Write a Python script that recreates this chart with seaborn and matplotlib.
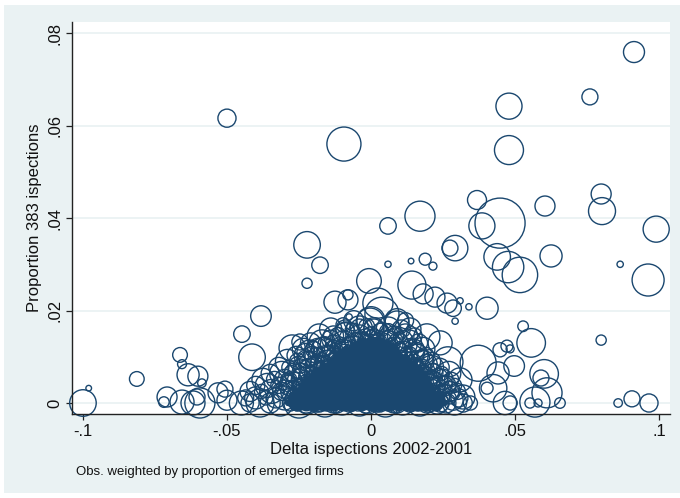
import numpy as np
import pandas as pd
import seaborn as sns
import matplotlib.pyplot as plt
from matplotlib.patches import Rectangle

navy = '#1a476f'
region_bg = '#eaf2f3'

# scattered firms, readable one by one (delta inspections, proportion 383, weight)
spread_x = [-0.0500, -0.0094, 0.0913, 0.0760, 0.0479, 0.0479, 0.0799, 0.0802, 0.0604, 0.0368,
            0.0448, 0.0385, 0.0170, 0.0059, 0.0990, 0.0274, 0.0292, 0.0438, 0.0476, 0.0517,
            0.0625, 0.0865, 0.0962, 0.0403, 0.0285, 0.0309, 0.0340, 0.0292, 0.0528, 0.0556,
            0.0799, 0.0372, 0.0448, 0.0472, 0.0483, 0.0497, 0.0441, 0.0424, 0.0403, 0.0465,
            0.0483, 0.0601, 0.0590, 0.0611, 0.0569, 0.0552, 0.0580, 0.0656, 0.0858, 0.0906,
            0.0965, -0.1000, -0.0980, -0.0813, -0.0663, -0.0656, -0.0635, -0.0601, -0.0587, -0.0708,
            -0.0719, -0.0656, -0.0618, -0.0594, -0.0604, -0.0531, -0.0507, -0.0500, -0.0448, -0.0382,
            -0.0413, -0.0222, -0.0177, -0.0222, 0.0188, 0.0215, 0.0139, 0.0059, -0.0007, 0.0142,
            0.0181, 0.0222, -0.0125, -0.0080, -0.0080, -0.0076, -0.0097, 0.0038, 0.0264, -0.0274,
            -0.0247, -0.0212, -0.0167, -0.0003, 0.0090, 0.0194, 0.0240, 0.0267, 0.0309, 0.0285,
            0.0319, 0.0024]
spread_y = [0.0616, 0.0560, 0.0759, 0.0662, 0.0642, 0.0547, 0.0452, 0.0415, 0.0426, 0.0439,
            0.0389, 0.0383, 0.0404, 0.0383, 0.0376, 0.0335, 0.0335, 0.0316, 0.0294, 0.0277,
            0.0318, 0.0300, 0.0266, 0.0205, 0.0205, 0.0221, 0.0208, 0.0177, 0.0166, 0.0130,
            0.0136, 0.0086, 0.0115, 0.0123, 0.0117, 0.0080, 0.0065, 0.0032, 0.0032, 0.0000,
            0.0000, 0.0063, 0.0054, 0.0022, 0.0002, 0.0000, 0.0000, 0.0000, 0.0000, 0.0009,
            0.0000, 0.0000, 0.0032, 0.0052, 0.0104, 0.0084, 0.0061, 0.0058, 0.0043, 0.0013,
            0.0002, 0.0002, 0.0000, 0.0000, 0.0013, 0.0022, 0.0030, 0.0006, 0.0149, 0.0188,
            0.0099, 0.0259, 0.0298, 0.0342, 0.0311, 0.0296, 0.0307, 0.0300, 0.0264, 0.0255,
            0.0236, 0.0229, 0.0218, 0.0223, 0.0234, 0.0186, 0.0169, 0.0192, 0.0216, 0.0119,
            0.0132, 0.0108, 0.0121, 0.0175, 0.0173, 0.0143, 0.0130, 0.0089, 0.0050, 0.0006,
            0.0013, 0.0216]
spread_w = [0.041, 0.145, 0.055, 0.032, 0.085, 0.105, 0.050, 0.091, 0.050, 0.045,
            0.313, 0.085, 0.113, 0.034, 0.085, 0.032, 0.081, 0.088, 0.123, 0.157,
            0.061, 0.005, 0.128, 0.061, 0.034, 0.005, 0.005, 0.005, 0.014, 0.102,
            0.013, 0.162, 0.025, 0.018, 0.008, 0.053, 0.061, 0.094, 0.018, 0.068,
            0.025, 0.102, 0.032, 0.113, 0.113, 0.013, 0.008, 0.014, 0.009, 0.032,
            0.041, 0.088, 0.004, 0.027, 0.027, 0.010, 0.061, 0.050, 0.009, 0.050,
            0.014, 0.072, 0.072, 0.113, 0.032, 0.050, 0.032, 0.050, 0.034, 0.053,
            0.088, 0.013, 0.034, 0.088, 0.018, 0.008, 0.004, 0.005, 0.076, 0.098,
            0.050, 0.050, 0.061, 0.050, 0.013, 0.005, 0.025, 0.145, 0.050, 0.085,
            0.032, 0.085, 0.050, 0.098, 0.072, 0.085, 0.072, 0.113, 0.072, 0.050,
            0.072, 0.113]

# rings hugging the edge of the dense mound
fringe_x = [-0.0300, -0.0285, -0.0265, -0.0245, -0.0225, -0.0205, -0.0185, -0.0160, -0.0140, -0.0115,
            -0.0090, -0.0065, -0.0040, -0.0015, 0.0010, 0.0035, 0.0060, 0.0085, 0.0110, 0.0135,
            0.0155, 0.0175, 0.0195, 0.0215, 0.0235, 0.0255, 0.0275,
            -0.0270, -0.0250, -0.0230, -0.0210, -0.0190, -0.0170, -0.0150, -0.0125, -0.0100, -0.0075,
            -0.0050, -0.0025, 0.0000, 0.0025, 0.0050, 0.0075, 0.0100, 0.0120, 0.0140, 0.0160,
            0.0180, 0.0200, 0.0220, 0.0240]
fringe_y = [0.0030, 0.0050, 0.0065, 0.0080, 0.0095, 0.0105, 0.0118, 0.0128, 0.0138, 0.0146,
            0.0152, 0.0158, 0.0162, 0.0165, 0.0163, 0.0158, 0.0152, 0.0145, 0.0135, 0.0124,
            0.0112, 0.0098, 0.0084, 0.0070, 0.0055, 0.0040, 0.0025,
            0.0020, 0.0040, 0.0058, 0.0072, 0.0086, 0.0098, 0.0110, 0.0120, 0.0128, 0.0134,
            0.0140, 0.0143, 0.0145, 0.0142, 0.0137, 0.0130, 0.0120, 0.0110, 0.0098, 0.0085,
            0.0072, 0.0058, 0.0043, 0.0028]
fringe_w = [0.041, 0.032, 0.050, 0.025, 0.041, 0.032, 0.050, 0.025, 0.041, 0.032,
            0.050, 0.025, 0.041, 0.032, 0.050, 0.025, 0.041, 0.032, 0.050, 0.025,
            0.041, 0.032, 0.050, 0.025, 0.041, 0.032, 0.050,
            0.018, 0.013, 0.018, 0.013, 0.018, 0.013, 0.018, 0.013, 0.018, 0.013,
            0.018, 0.013, 0.018, 0.013, 0.018, 0.013, 0.018, 0.013, 0.018, 0.013,
            0.018, 0.013, 0.018, 0.013]

# the crowded mass near zero, read row by row (rings)
cluster_y = [0.0000, 0.0011, 0.0025, 0.0038, 0.0051, 0.0064, 0.0077,
             0.0090, 0.0103, 0.0116, 0.0130, 0.0145, 0.0160, 0.0178, 0.0000]
cluster_x = [
    [-0.0450, -0.0420, -0.0385, -0.0350, -0.0315, -0.0280, -0.0250, -0.0220, -0.0190, -0.0160,
     -0.0130, -0.0100, -0.0070, -0.0040, -0.0010, 0.0020, 0.0050, 0.0080, 0.0110, 0.0140,
     0.0170, 0.0200, 0.0230, 0.0260, 0.0290, 0.0320, 0.0345],
    [-0.0435, -0.0400, -0.0365, -0.0330, -0.0300, -0.0265, -0.0235, -0.0205, -0.0175, -0.0145,
     -0.0115, -0.0085, -0.0055, -0.0025, 0.0005, 0.0035, 0.0065, 0.0095, 0.0125, 0.0155,
     0.0185, 0.0215, 0.0245, 0.0275, 0.0305],
    [-0.0420, -0.0380, -0.0345, -0.0310, -0.0275, -0.0240, -0.0210, -0.0180, -0.0150, -0.0120,
     -0.0090, -0.0060, -0.0030, 0.0000, 0.0030, 0.0060, 0.0090, 0.0120, 0.0150, 0.0180,
     0.0210, 0.0240, 0.0270, 0.0300],
    [-0.0400, -0.0360, -0.0320, -0.0285, -0.0250, -0.0220, -0.0190, -0.0160, -0.0130, -0.0100,
     -0.0070, -0.0040, -0.0010, 0.0020, 0.0050, 0.0080, 0.0110, 0.0140, 0.0170, 0.0200,
     0.0230, 0.0260, 0.0290],
    [-0.0375, -0.0335, -0.0300, -0.0265, -0.0235, -0.0200, -0.0170, -0.0140, -0.0110, -0.0080,
     -0.0050, -0.0020, 0.0010, 0.0040, 0.0070, 0.0100, 0.0130, 0.0160, 0.0190, 0.0220,
     0.0250, 0.0280],
    [-0.0350, -0.0310, -0.0275, -0.0240, -0.0205, -0.0175, -0.0145, -0.0115, -0.0085, -0.0055,
     -0.0025, 0.0005, 0.0035, 0.0065, 0.0095, 0.0125, 0.0155, 0.0185, 0.0215, 0.0245, 0.0270],
    [-0.0320, -0.0285, -0.0250, -0.0215, -0.0185, -0.0150, -0.0120, -0.0090, -0.0060, -0.0030,
     0.0000, 0.0030, 0.0060, 0.0090, 0.0120, 0.0150, 0.0180, 0.0210, 0.0240],
    [-0.0290, -0.0255, -0.0220, -0.0185, -0.0155, -0.0120, -0.0090, -0.0060, -0.0030, 0.0000,
     0.0030, 0.0060, 0.0090, 0.0120, 0.0150, 0.0180, 0.0210],
    [-0.0260, -0.0225, -0.0190, -0.0155, -0.0120, -0.0090, -0.0055, -0.0025, 0.0010, 0.0040,
     0.0070, 0.0100, 0.0130, 0.0160, 0.0190],
    [-0.0235, -0.0200, -0.0165, -0.0130, -0.0095, -0.0060, -0.0025, 0.0010, 0.0045, 0.0080,
     0.0115, 0.0150, 0.0180],
    [-0.0210, -0.0170, -0.0130, -0.0095, -0.0055, -0.0015, 0.0025, 0.0060, 0.0095, 0.0130, 0.0165],
    [-0.0180, -0.0130, -0.0085, -0.0040, 0.0000, 0.0040, 0.0080, 0.0120, 0.0150],
    [-0.0140, -0.0090, -0.0040, 0.0010, 0.0060, 0.0105, 0.0135],
    [-0.0060, 0.0000, 0.0090, 0.0120],
    [-0.0270, -0.0255, -0.0240, -0.0225, -0.0210, -0.0195, -0.0180, -0.0165, -0.0150, -0.0135,
     -0.0120, -0.0105, -0.0090, -0.0075, -0.0060, -0.0045, -0.0030, -0.0015, 0.0000, 0.0015,
     0.0030, 0.0045, 0.0060, 0.0075, 0.0090, 0.0105, 0.0120, 0.0135, 0.0150, 0.0165,
     0.0180, 0.0195, 0.0210, 0.0225, 0.0240],
]
cluster_w = [
    [0.072, 0.041, 0.098, 0.050, 0.085, 0.032, 0.113, 0.061, 0.041, 0.098, 0.050, 0.072, 0.032, 0.085,
     0.061, 0.041, 0.098, 0.050, 0.072, 0.032, 0.085, 0.041, 0.061, 0.050, 0.072, 0.041, 0.025],
    [0.032, 0.061, 0.025, 0.050, 0.072, 0.041, 0.025, 0.072, 0.032, 0.050, 0.018, 0.041, 0.061, 0.025,
     0.050, 0.032, 0.072, 0.018, 0.041, 0.061, 0.025, 0.050, 0.032, 0.018, 0.041],
    [0.050, 0.025, 0.072, 0.041, 0.061, 0.032, 0.050, 0.025, 0.072, 0.032, 0.050, 0.018, 0.041, 0.061,
     0.025, 0.050, 0.032, 0.061, 0.018, 0.041, 0.072, 0.025, 0.050, 0.032],
    [0.041, 0.072, 0.032, 0.050, 0.025, 0.061, 0.041, 0.018, 0.050, 0.032, 0.061, 0.025, 0.041, 0.018,
     0.050, 0.032, 0.072, 0.025, 0.041, 0.061, 0.032, 0.050, 0.025],
    [0.061, 0.032, 0.050, 0.025, 0.072, 0.041, 0.025, 0.050, 0.032, 0.061, 0.018, 0.041, 0.025, 0.050,
     0.032, 0.061, 0.018, 0.041, 0.072, 0.032, 0.050, 0.025],
    [0.041, 0.072, 0.032, 0.050, 0.025, 0.061, 0.032, 0.050, 0.018, 0.041, 0.025, 0.050, 0.032, 0.061,
     0.025, 0.041, 0.072, 0.032, 0.050, 0.025, 0.072],
    [0.050, 0.025, 0.061, 0.041, 0.072, 0.032, 0.050, 0.025, 0.041, 0.018, 0.050, 0.032, 0.061, 0.025,
     0.041, 0.050, 0.032, 0.072, 0.041],
    [0.072, 0.032, 0.050, 0.025, 0.061, 0.041, 0.072, 0.032, 0.050, 0.025, 0.041, 0.061, 0.032, 0.050,
     0.025, 0.061, 0.041],
    [0.041, 0.072, 0.032, 0.050, 0.025, 0.061, 0.041, 0.072, 0.032, 0.050, 0.025, 0.072, 0.041, 0.061, 0.032],
    [0.061, 0.032, 0.072, 0.041, 0.050, 0.085, 0.032, 0.061, 0.041, 0.072, 0.032, 0.050, 0.072],
    [0.050, 0.085, 0.032, 0.072, 0.050, 0.098, 0.041, 0.072, 0.050, 0.085, 0.041],
    [0.072, 0.050, 0.098, 0.061, 0.041, 0.085, 0.050, 0.072, 0.032],
    [0.061, 0.041, 0.085, 0.050, 0.072, 0.041, 0.061],
    [0.050, 0.098, 0.072, 0.032],
    [0.013, 0.032, 0.018, 0.050, 0.008, 0.025, 0.041, 0.013, 0.032, 0.018, 0.050, 0.008, 0.025, 0.041,
     0.013, 0.032, 0.018, 0.050, 0.008, 0.025, 0.041, 0.013, 0.032, 0.018, 0.050, 0.008, 0.025, 0.041,
     0.013, 0.032, 0.018, 0.050, 0.008, 0.025, 0.041],
]

# overplotted core: so many firms that the rings merge into solid ink
core_weight = 0.003
base_weight = 0.03
core_y = [0.0000, 0.0009, 0.0018, 0.0027, 0.0036, 0.0045, 0.0054, 0.0063,
          0.0072, 0.0081, 0.0090, 0.0099, 0.0108, 0.0117, 0.0126, 0.0135]
core_x = [
    [-0.0288, -0.0272, -0.0256, -0.0240, -0.0224, -0.0208, -0.0192, -0.0176, -0.0160, -0.0144,
     -0.0128, -0.0112, -0.0096, -0.0080, -0.0064, -0.0048, -0.0032, -0.0016, 0.0000, 0.0016,
     0.0032, 0.0048, 0.0064, 0.0080, 0.0096, 0.0112, 0.0128, 0.0144, 0.0160, 0.0176,
     0.0192, 0.0208, 0.0224, 0.0240, 0.0256],
    [-0.0280, -0.0264, -0.0248, -0.0232, -0.0216, -0.0200, -0.0184, -0.0168, -0.0152, -0.0136,
     -0.0120, -0.0104, -0.0088, -0.0072, -0.0056, -0.0040, -0.0024, -0.0008, 0.0008, 0.0024,
     0.0040, 0.0056, 0.0072, 0.0088, 0.0104, 0.0120, 0.0136, 0.0152, 0.0168, 0.0184,
     0.0200, 0.0216, 0.0232, 0.0248],
    [-0.0272, -0.0256, -0.0240, -0.0224, -0.0208, -0.0192, -0.0176, -0.0160, -0.0144, -0.0128,
     -0.0112, -0.0096, -0.0080, -0.0064, -0.0048, -0.0032, -0.0016, 0.0000, 0.0016, 0.0032,
     0.0048, 0.0064, 0.0080, 0.0096, 0.0112, 0.0128, 0.0144, 0.0160, 0.0176, 0.0192,
     0.0208, 0.0224, 0.0240],
    [-0.0264, -0.0248, -0.0232, -0.0216, -0.0200, -0.0184, -0.0168, -0.0152, -0.0136, -0.0120,
     -0.0104, -0.0088, -0.0072, -0.0056, -0.0040, -0.0024, -0.0008, 0.0008, 0.0024, 0.0040,
     0.0056, 0.0072, 0.0088, 0.0104, 0.0120, 0.0136, 0.0152, 0.0168, 0.0184, 0.0200, 0.0216],
    [-0.0240, -0.0224, -0.0208, -0.0192, -0.0176, -0.0160, -0.0144, -0.0128, -0.0112, -0.0096,
     -0.0080, -0.0064, -0.0048, -0.0032, -0.0016, 0.0000, 0.0016, 0.0032, 0.0048, 0.0064,
     0.0080, 0.0096, 0.0112, 0.0128, 0.0144, 0.0160, 0.0176, 0.0192, 0.0208],
    [-0.0232, -0.0216, -0.0200, -0.0184, -0.0168, -0.0152, -0.0136, -0.0120, -0.0104, -0.0088,
     -0.0072, -0.0056, -0.0040, -0.0024, -0.0008, 0.0008, 0.0024, 0.0040, 0.0056, 0.0072,
     0.0088, 0.0104, 0.0120, 0.0136, 0.0152, 0.0168, 0.0184, 0.0200],
    [-0.0224, -0.0208, -0.0192, -0.0176, -0.0160, -0.0144, -0.0128, -0.0112, -0.0096, -0.0080,
     -0.0064, -0.0048, -0.0032, -0.0016, 0.0000, 0.0016, 0.0032, 0.0048, 0.0064, 0.0080,
     0.0096, 0.0112, 0.0128, 0.0144, 0.0160, 0.0176, 0.0192],
    [-0.0200, -0.0184, -0.0168, -0.0152, -0.0136, -0.0120, -0.0104, -0.0088, -0.0072, -0.0056,
     -0.0040, -0.0024, -0.0008, 0.0008, 0.0024, 0.0040, 0.0056, 0.0072, 0.0088, 0.0104,
     0.0120, 0.0136, 0.0152, 0.0168, 0.0184],
    [-0.0192, -0.0176, -0.0160, -0.0144, -0.0128, -0.0112, -0.0096, -0.0080, -0.0064, -0.0048,
     -0.0032, -0.0016, 0.0000, 0.0016, 0.0032, 0.0048, 0.0064, 0.0080, 0.0096, 0.0112,
     0.0128, 0.0144, 0.0160, 0.0176],
    [-0.0168, -0.0152, -0.0136, -0.0120, -0.0104, -0.0088, -0.0072, -0.0056, -0.0040, -0.0024,
     -0.0008, 0.0008, 0.0024, 0.0040, 0.0056, 0.0072, 0.0088, 0.0104, 0.0120, 0.0136, 0.0152],
    [-0.0144, -0.0128, -0.0112, -0.0096, -0.0080, -0.0064, -0.0048, -0.0032, -0.0016, 0.0000,
     0.0016, 0.0032, 0.0048, 0.0064, 0.0080, 0.0096, 0.0112, 0.0128],
    [-0.0120, -0.0104, -0.0088, -0.0072, -0.0056, -0.0040, -0.0024, -0.0008, 0.0008, 0.0024,
     0.0040, 0.0056, 0.0072, 0.0088, 0.0104, 0.0120],
    [-0.0112, -0.0096, -0.0080, -0.0064, -0.0048, -0.0032, -0.0016, 0.0000, 0.0016, 0.0032,
     0.0048, 0.0064, 0.0080, 0.0096],
    [-0.0088, -0.0072, -0.0056, -0.0040, -0.0024, -0.0008, 0.0008, 0.0024, 0.0040, 0.0056,
     0.0072, 0.0088],
    [-0.0064, -0.0048, -0.0032, -0.0016, 0.0000, 0.0016, 0.0032, 0.0048, 0.0064],
    [-0.0040, -0.0024, -0.0008, 0.0008, 0.0024, 0.0040],
]
# zero-inspection firms stacked on the baseline
base_x = [-0.0256, -0.0224, -0.0192, -0.0160, -0.0128, -0.0096, -0.0064, -0.0032, 0.0000, 0.0032,
          0.0064, 0.0096, 0.0128, 0.0160, 0.0192, 0.0224]

x_ticks = [-0.1, -0.05, 0, 0.05, 0.1]
x_ticklabels = ['-.1', '-.05', '0', '.05', '.1']
y_ticks = [0, 0.02, 0.04, 0.06, 0.08]
y_ticklabels = ['0', '.02', '.04', '.06', '.08']

rows = [(a, b, c) for a, b, c in zip(spread_x, spread_y, spread_w)]
rows += [(a, b, c) for a, b, c in zip(fringe_x, fringe_y, fringe_w)]
for yv, xs, ws in zip(cluster_y, cluster_x, cluster_w):
    rows += [(a, yv, c) for a, c in zip(xs, ws)]
df = pd.DataFrame(rows, columns=['delta', 'prop383', 'weight'])

core_rows = []
for yv, xs in zip(core_y, core_x):
    core_rows += [(a, yv, core_weight) for a in xs]
core_rows += [(a, 0.0, base_weight) for a in base_x]
core = pd.DataFrame(core_rows, columns=['delta', 'prop383', 'weight'])

sns.set_style('white')
plt.rcParams['font.family'] = ['Liberation Sans', 'DejaVu Sans']

fig = plt.figure(figsize=(6.8, 4.98), dpi=100)
fig.patch.set_facecolor('white')
fig.patches.append(Rectangle((4 / 680, 5 / 498), 676 / 680, 488 / 498, transform=fig.transFigure,
                             facecolor=region_bg, edgecolor='none', zorder=-5))
ax = fig.add_axes([72 / 680, 84 / 498, 598 / 680, 392 / 498])
ax.set_facecolor('white')

sns.scatterplot(data=df, x='delta', y='prop383', size='weight', sizes=(0, 4150), size_norm=(0, 1),
                legend=False, facecolors='none', edgecolor=navy, linewidth=1.0, ax=ax, clip_on=False)
# where the rings pile up they read as solid ink
sns.scatterplot(data=core, x='delta', y='prop383', size='weight', sizes=(0, 4150), size_norm=(0, 1),
                legend=False, color=navy, edgecolor=navy, linewidth=1.0, ax=ax, clip_on=False)

ax.set_xlim(-0.1038, 0.1038)
ax.set_ylim(-0.00238, 0.0824)
ax.set_xticks(x_ticks)
ax.set_xticklabels(x_ticklabels)
ax.set_yticks(y_ticks)
ax.set_yticklabels(y_ticklabels, rotation=90, va='center')
ax.tick_params(axis='both', direction='out', length=4, width=0.9, color='#222222',
               labelsize=12, labelcolor='#111111', pad=3, left=True, bottom=True)
ax.yaxis.grid(True, color=region_bg, linewidth=1.3)
ax.xaxis.grid(False)
ax.set_axisbelow(True)
for side in ['top', 'right']:
    ax.spines[side].set_visible(False)
for side in ['left', 'bottom']:
    ax.spines[side].set_color('#222222')
    ax.spines[side].set_linewidth(1.0)

ax.set_xlabel('Delta ispections 2002-2001', fontsize=12, color='#111111', labelpad=2)
ax.set_ylabel('Proportion 383 ispections', fontsize=12, color='#111111', labelpad=4)
fig.text(76 / 680, 1 - 472 / 498, 'Obs. weighted by proportion of emerged firms',
         fontsize=9.5, color='#111111', va='center', ha='left')

fig.savefig('out.png', dpi=100)
